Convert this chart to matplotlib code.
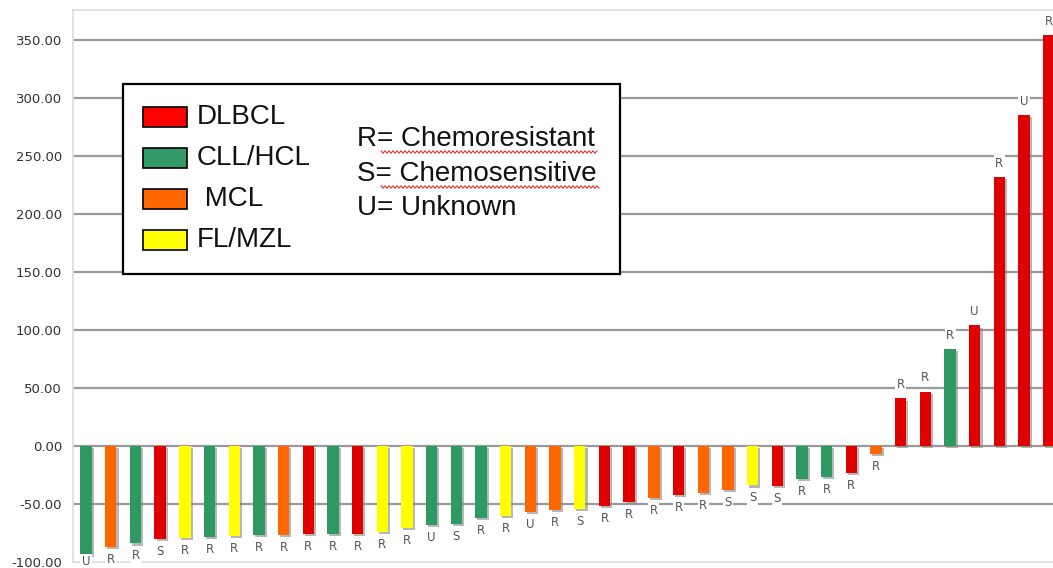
import matplotlib
matplotlib.use("Agg")
import matplotlib.pyplot as plt
import matplotlib.patheffects as pe
from matplotlib.patches import Rectangle
from matplotlib.lines import Line2D
from matplotlib.ticker import FormatStrFormatter
import numpy as np

# ---- data ----
values = [-94, -87, -84, -80.5, -79, -78.5, -77.5, -77, -76.5, -76, -76, -75.5,
          -74, -71, -68, -67, -62, -60, -57, -55.5, -54.5, -52, -48, -45, -42.5,
          -40.5, -37.5, -34, -34.5, -28, -27, -23.5, -7, 41, 47, 83.5, 104, 232,
          285.5, 354.5]
subtypes = ["CLL/HCL", "MCL", "CLL/HCL", "DLBCL", "FL/MZL", "CLL/HCL", "FL/MZL",
            "CLL/HCL", "MCL", "DLBCL", "CLL/HCL", "DLBCL", "FL/MZL", "FL/MZL",
            "CLL/HCL", "CLL/HCL", "CLL/HCL", "FL/MZL", "MCL", "MCL", "FL/MZL",
            "DLBCL", "DLBCL", "MCL", "DLBCL", "MCL", "MCL", "FL/MZL", "DLBCL",
            "CLL/HCL", "CLL/HCL", "DLBCL", "MCL", "DLBCL", "DLBCL", "CLL/HCL",
            "DLBCL", "DLBCL", "DLBCL", "DLBCL"]
response = ["U", "R", "R", "S", "R", "R", "R", "R", "R", "R", "R", "R", "R", "R",
            "U", "S", "R", "R", "U", "R", "S", "R", "R", "R", "R", "R", "S", "S",
            "S", "R", "R", "R", "R", "R", "R", "R", "U", "R", "U", "R"]
legend_names = ["DLBCL", "CLL/HCL", " MCL", "FL/MZL"]
legend_keys = ["DLBCL", "CLL/HCL", "MCL", "FL/MZL"]
response_notes = ["R= Chemoresistant", "S= Chemosensitive", "U= Unknown"]
yticks = [-100, -50, 0, 50, 100, 150, 200, 250, 300, 350]

bar_colors = {"DLBCL": "#DF0000", "CLL/HCL": "#2E9A62", "MCL": "#FF6600", "FL/MZL": "#FFFF00"}
legend_colors = {"DLBCL": "#FF0000", "CLL/HCL": "#339966", "MCL": "#FF6600", "FL/MZL": "#FFFF00"}

W, H = 1053, 568
fig = plt.figure(figsize=(W / 100, H / 100), dpi=100)
ax = fig.add_axes([73 / W, 6 / H, 1 - 73 / W, 1 - 16 / H])

x = np.arange(len(values))
bars = ax.bar(x, values, width=0.46, color=[bar_colors[s] for s in subtypes],
              zorder=3, linewidth=0)
for b in bars:
    b.set_path_effects([pe.SimplePatchShadow(offset=(1.5, -1.5), shadow_rgbFace="#888888", alpha=0.6),
                        pe.Normal()])

px_per_unit = (H - 16) / 476.0
for xi, v, r in zip(x, values, response):
    if v > 0:
        off = 10
    else:
        room_px = (100 + v) * px_per_unit + 6 - 6.5
        off = max(-9, -room_px * 0.72)
    ax.annotate(r, (xi, v), xytext=(0, off), textcoords="offset points",
                ha="center", va="center", fontsize=8.5, color="#555555",
                family="DejaVu Sans", zorder=5, annotation_clip=False,
                bbox=dict(boxstyle="square,pad=0.12", fc="white", ec="none"))

ax.set_xlim(-0.53, len(values) - 1 + 0.17)
ax.set_ylim(-100, 376)
ax.set_yticks(yticks)
ax.yaxis.set_major_formatter(FormatStrFormatter("%.2f"))
ax.tick_params(axis="y", length=0, pad=8, labelsize=9.5, labelcolor="#333333")
ax.tick_params(axis="x", length=0, labelbottom=False)
ax.yaxis.grid(True, color="#9a9a9a", linewidth=1.6, zorder=1)
ax.get_ygridlines()[0].set_visible(False)
ax.set_axisbelow(True)
ax.spines["right"].set_visible(False)
for s in ["left", "top", "bottom"]:
    ax.spines[s].set_color("#dddddd")
    ax.spines[s].set_linewidth(1.2)

# custom legend box
def fx(px):
    return px / W

def fy(py):
    return 1 - py / H

box = Rectangle((fx(123), fy(274)), fx(620) - fx(123), fy(84) - fy(274),
                transform=fig.transFigure, facecolor="white", edgecolor="black",
                linewidth=1.6, zorder=10)
fig.add_artist(box)
row_y = [117, 158, 199, 240]
for name, key, yy in zip(legend_names, legend_keys, row_y):
    fig.add_artist(Rectangle((fx(143), fy(yy + 10)), fx(44), 20 / H,
                             transform=fig.transFigure, facecolor=legend_colors[key],
                             edgecolor="black", linewidth=1.2, zorder=11))
    fig.text(fx(197), fy(yy), name, fontsize=20, family="Liberation Sans",
             va="center", ha="left", color="#111111", zorder=12)
for note, yy in zip(response_notes, [139, 174, 208]):
    fig.text(fx(357), fy(yy), note, fontsize=20, family="Liberation Sans",
             va="center", ha="left", color="#111111", zorder=12)

# red spell-check squiggles under the two long words (decoration)
for (x0, x1, yy) in [(381, 598, 152), (381, 600, 187)]:
    xs = np.arange(x0, x1 + 1, 2.0)
    ys = yy + np.where((np.arange(len(xs)) % 2) == 0, -1.2, 1.2)
    fig.add_artist(Line2D(xs / W, 1 - ys / H, transform=fig.transFigure,
                          color="#e03030", linewidth=0.8, zorder=12))

fig.savefig("out.png", dpi=100)
